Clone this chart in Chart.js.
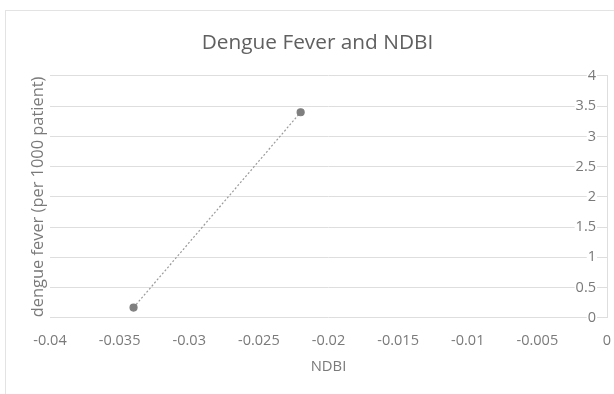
<!DOCTYPE html>
<html>
<head>
<meta charset="utf-8">
<script src="https://cdn.jsdelivr.net/npm/chart.js@4.4.1/dist/chart.umd.min.js"></script>
<style>
  html, body { margin: 0; padding: 0; background: #fff; }
  #wrap { position: relative; width: 614px; height: 394px; overflow: hidden; }
  #frame { position: absolute; left: 5px; top: 10px; width: 700px; height: 500px; border: 1px solid #e3e3e3; }
  #c { position: absolute; left: 0; top: 0; }
</style>
</head>
<body>
<div id="wrap">
  <div id="frame"></div>
  <canvas id="c" width="614" height="394"></canvas>
</div>
<script>
// NDBI index vs. dengue fever incidence
const ndbi = [-0.034, -0.022];
const dengue = [0.17, 3.4];
const xTickMin = -0.04, xTickMax = 0, xStep = 0.005;
const yTickMin = 0, yTickMax = 4, yStep = 0.5;

const textGray = '#7a7a7a';
const gridGray = '#dedede';
const fontFamily = '"Open Sans", Lato, sans-serif';

const points = ndbi.map((x, i) => ({ x: x, y: dengue[i] }));

new Chart(document.getElementById('c'), {
  type: 'scatter',
  data: {
    datasets: [{
      data: points,
      showLine: true,
      borderColor: '#9a9a9a',
      borderWidth: 1.2,
      borderDash: [2, 2],
      pointRadius: 3.5,
      pointBackgroundColor: '#7f7f7f',
      pointBorderColor: '#7f7f7f',
      yAxisID: 'y'
    }]
  },
  options: {
    responsive: false,
    animation: false,
    layout: { padding: { left: 28, right: 7, top: 0, bottom: 18 } },
    plugins: {
      legend: { display: false },
      tooltip: { enabled: false },
      title: {
        display: true,
        text: 'Dengue Fever and NDBI',
        color: '#606060',
        font: { family: fontFamily, size: 20.8, weight: 'normal' },
        padding: { top: 31, bottom: 20 }
      }
    },
    scales: {
      x: {
        type: 'linear',
        min: xTickMin,
        max: xTickMax,
        afterFit: s => { s.paddingLeft = 0; s.paddingRight = 0; },
        grid: { display: false },
        border: { display: false },
        ticks: {
          stepSize: xStep,
          color: textGray,
          padding: 6,
          font: { family: fontFamily, size: 14.5 },
          callback: v => String(Math.round(v * 1000) / 1000)
        },
        title: {
          display: true,
          text: 'NDBI',
          color: textGray,
          font: { family: fontFamily, size: 14.8 },
          padding: { top: 3, bottom: 0 }
        }
      },
      y: {
        position: 'right',
        min: yTickMin,
        max: yTickMax,
        afterFit: s => { s.width = 0; },
        grid: { color: gridGray, lineWidth: 1, drawTicks: false },
        border: { display: true, color: gridGray },
        ticks: {
          stepSize: yStep,
          mirror: true,
          padding: -11,
          color: textGray,
          font: { family: fontFamily, size: 14.5 },
          callback: v => String(v),
          showLabelBackdrop: true,
          backdropColor: '#ffffff',
          backdropPadding: { left: 1, right: 1, top: 0, bottom: 0 }
        }
      },
      yTitle: {
        position: 'left',
        min: yTickMin,
        max: yTickMax,
        afterFit: s => { s.width = 22; },
        grid: { display: false },
        border: { display: false },
        ticks: { display: false },
        title: {
          display: true,
          text: 'dengue fever (per 1000 patient)',
          color: textGray,
          font: { family: fontFamily, size: 16.4 },
          padding: { top: 0, bottom: 0 }
        }
      }
    }
  }
});
</script>
</body>
</html>
